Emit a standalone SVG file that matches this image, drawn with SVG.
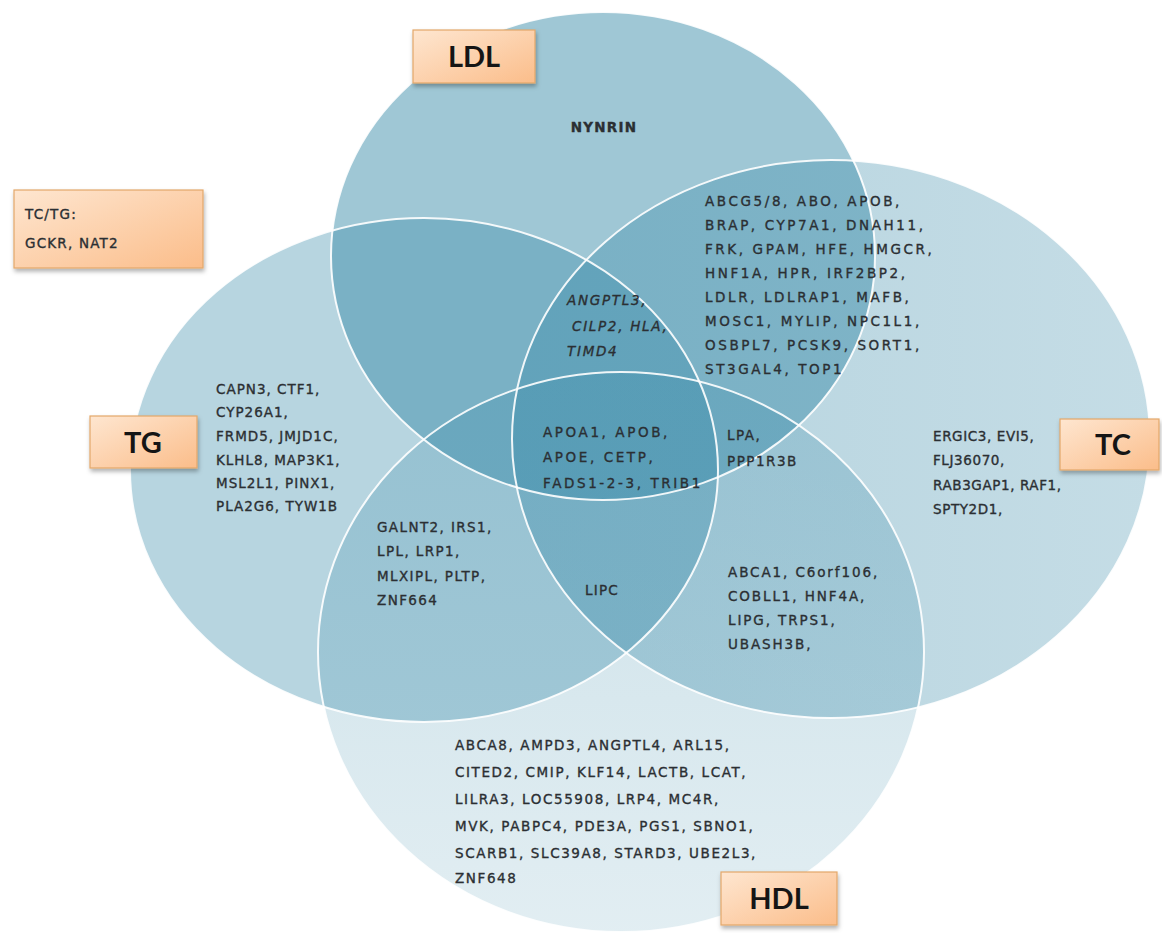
<svg xmlns="http://www.w3.org/2000/svg" width="1162" height="933" viewBox="0 0 1162 933">
<style>
.set{fill:#3c8caa}
.edge{fill:none;stroke:#ffffff;stroke-width:2;stroke-opacity:0.9}
.g{font-family:"DejaVu Sans","Verdana",sans-serif;font-size:13.5px;fill:#2b2f33;stroke:#2b2f33;stroke-width:0.35}
.box{stroke:#e3a76a;stroke-width:1.2;fill:url(#orange)}
.lab{font-family:Lato,"Liberation Sans",sans-serif;font-weight:bold;font-size:29px;fill:#151515;text-anchor:middle}
</style>
<defs>
<linearGradient id="orange" x1="0" y1="0" x2="1" y2="1">
<stop offset="0" stop-color="#fee6d0"/>
<stop offset="1" stop-color="#fbbd8a"/>
</linearGradient>
<linearGradient id="tcg" x1="0" y1="0" x2="1" y2="0">
<stop offset="0" stop-color="#3c8caa" stop-opacity="0.38"/>
<stop offset="1" stop-color="#3c8caa" stop-opacity="0.3"/>
</linearGradient>
<linearGradient id="hdlg" x1="0" y1="0" x2="0" y2="1">
<stop offset="0" stop-color="#3c8caa" stop-opacity="0.27"/>
<stop offset="1" stop-color="#3c8caa" stop-opacity="0.15"/>
</linearGradient>
<filter id="sh" x="-10%" y="-10%" width="130%" height="140%">
<feDropShadow dx="1" dy="3" stdDeviation="2" flood-color="#000" flood-opacity="0.3"/>
</filter>
</defs>
<rect width="1162" height="933" fill="#ffffff"/>

<g id="set-TG"><ellipse class="set" cx="424" cy="470" rx="294" ry="252" fill-opacity="0.37"/></g>
<g id="set-LDL"><ellipse class="set" cx="603" cy="256" rx="272" ry="244" fill-opacity="0.49"/></g>
<g id="set-TC"><ellipse cx="831" cy="439" rx="319" ry="279" fill="url(#tcg)"/></g>
<g id="set-HDL"><ellipse cx="621" cy="652" rx="303" ry="280" fill="url(#hdlg)"/></g>

<g id="connectors">
<ellipse class="edge" cx="424" cy="470" rx="294" ry="252"/>
<ellipse class="edge" cx="603" cy="256" rx="272" ry="244"/>
<ellipse class="edge" cx="831" cy="439" rx="319" ry="279"/>
<ellipse class="edge" cx="621" cy="652" rx="303" ry="280"/>
</g>

<g id="ldl-only"><text class="g" x="604" y="132" text-anchor="middle" font-size="13" font-weight="bold" letter-spacing="1.2" fill="#3a4a55" stroke="none">NYNRIN</text></g>

<g id="ldl-tc" class="g" letter-spacing="2.6">
<text x="705" y="206">ABCG5/8, ABO, APOB,</text>
<text x="705" y="230">BRAP, CYP7A1, DNAH11,</text>
<text x="705" y="254">FRK, GPAM, HFE, HMGCR,</text>
<text x="705" y="278">HNF1A, HPR, IRF2BP2,</text>
<text x="705" y="302">LDLR, LDLRAP1, MAFB,</text>
<text x="705" y="326">MOSC1, MYLIP, NPC1L1,</text>
<text x="705" y="350">OSBPL7, PCSK9, SORT1,</text>
<text x="705" y="374">ST3GAL4, TOP1</text>
</g>

<g id="tg-only" class="g" letter-spacing="1">
<text x="216" y="394">CAPN3, CTF1,</text>
<text x="216" y="417">CYP26A1,</text>
<text x="216" y="441">FRMD5, JMJD1C,</text>
<text x="216" y="465">KLHL8,  MAP3K1,</text>
<text x="216" y="488">MSL2L1, PINX1,</text>
<text x="216" y="511">PLA2G6, TYW1B</text>
</g>

<g id="ldl-tg-tc" class="g" font-style="italic" letter-spacing="1.7">
<text x="567" y="305">ANGPTL3,</text>
<text x="572" y="331">CILP2, HLA,</text>
<text x="567" y="356">TIMD4</text>
</g>

<g id="all-four" class="g" letter-spacing="2.6">
<text x="543" y="437">APOA1, APOB,</text>
<text x="543" y="462">APOE, CETP,</text>
<text x="543" y="488">FADS1-2-3, TRIB1</text>
</g>

<g id="ldl-tc-hdl" class="g" letter-spacing="1.5">
<text x="727" y="440">LPA,</text>
<text x="727" y="466">PPP1R3B</text>
</g>

<g id="tc-only" class="g" letter-spacing="0.6">
<text x="933" y="441">ERGIC3, EVI5,</text>
<text x="933" y="465">FLJ36070,</text>
<text x="933" y="490">RAB3GAP1, RAF1,</text>
<text x="933" y="514">SPTY2D1,</text>
</g>

<g id="tg-hdl" class="g" letter-spacing="1.4">
<text x="377" y="532">GALNT2, IRS1,</text>
<text x="377" y="556">LPL, LRP1,</text>
<text x="377" y="581">MLXIPL, PLTP,</text>
<text x="377" y="605">ZNF664</text>
</g>

<g id="tg-tc-hdl" class="g" letter-spacing="1.2">
<text x="585" y="595">LIPC</text>
</g>

<g id="tc-hdl" class="g" letter-spacing="1.9">
<text x="728" y="577">ABCA1, C6orf106,</text>
<text x="728" y="601">COBLL1, HNF4A,</text>
<text x="728" y="625">LIPG, TRPS1,</text>
<text x="728" y="649">UBASH3B,</text>
</g>

<g id="hdl-only" class="g" font-size="14" letter-spacing="1.6">
<text x="455" y="750">ABCA8, AMPD3, ANGPTL4, ARL15,</text>
<text x="455" y="777">CITED2, CMIP, KLF14, LACTB, LCAT,</text>
<text x="455" y="804">LILRA3, LOC55908, LRP4, MC4R,</text>
<text x="455" y="831">MVK, PABPC4, PDE3A, PGS1, SBNO1,</text>
<text x="455" y="858">SCARB1, SLC39A8, STARD3, UBE2L3,</text>
<text x="455" y="883">ZNF648</text>
</g>

<g id="box-TCTG">
<rect class="box" x="14" y="190" width="189" height="78" filter="url(#sh)"/>
<text class="g" x="25" y="219" font-size="16" letter-spacing="1.2">TC/TG:</text>
<text class="g" x="25" y="248" font-size="16" letter-spacing="1.2">GCKR, NAT2</text>
</g>
<g id="box-LDL">
<rect class="box" x="413" y="30" width="122" height="53" filter="url(#sh)"/>
<text class="lab" x="474" y="67">LDL</text>
</g>
<g id="box-TG">
<rect class="box" x="90" y="416" width="107" height="52" filter="url(#sh)"/>
<text class="lab" x="143" y="453">TG</text>
</g>
<g id="box-TC">
<rect class="box" x="1060" y="419" width="99" height="51" filter="url(#sh)"/>
<text class="lab" x="1113" y="455">TC</text>
</g>
<g id="box-HDL">
<rect class="box" x="721" y="872" width="116" height="53" filter="url(#sh)"/>
<text class="lab" x="779" y="909">HDL</text>
</g>
</svg>
